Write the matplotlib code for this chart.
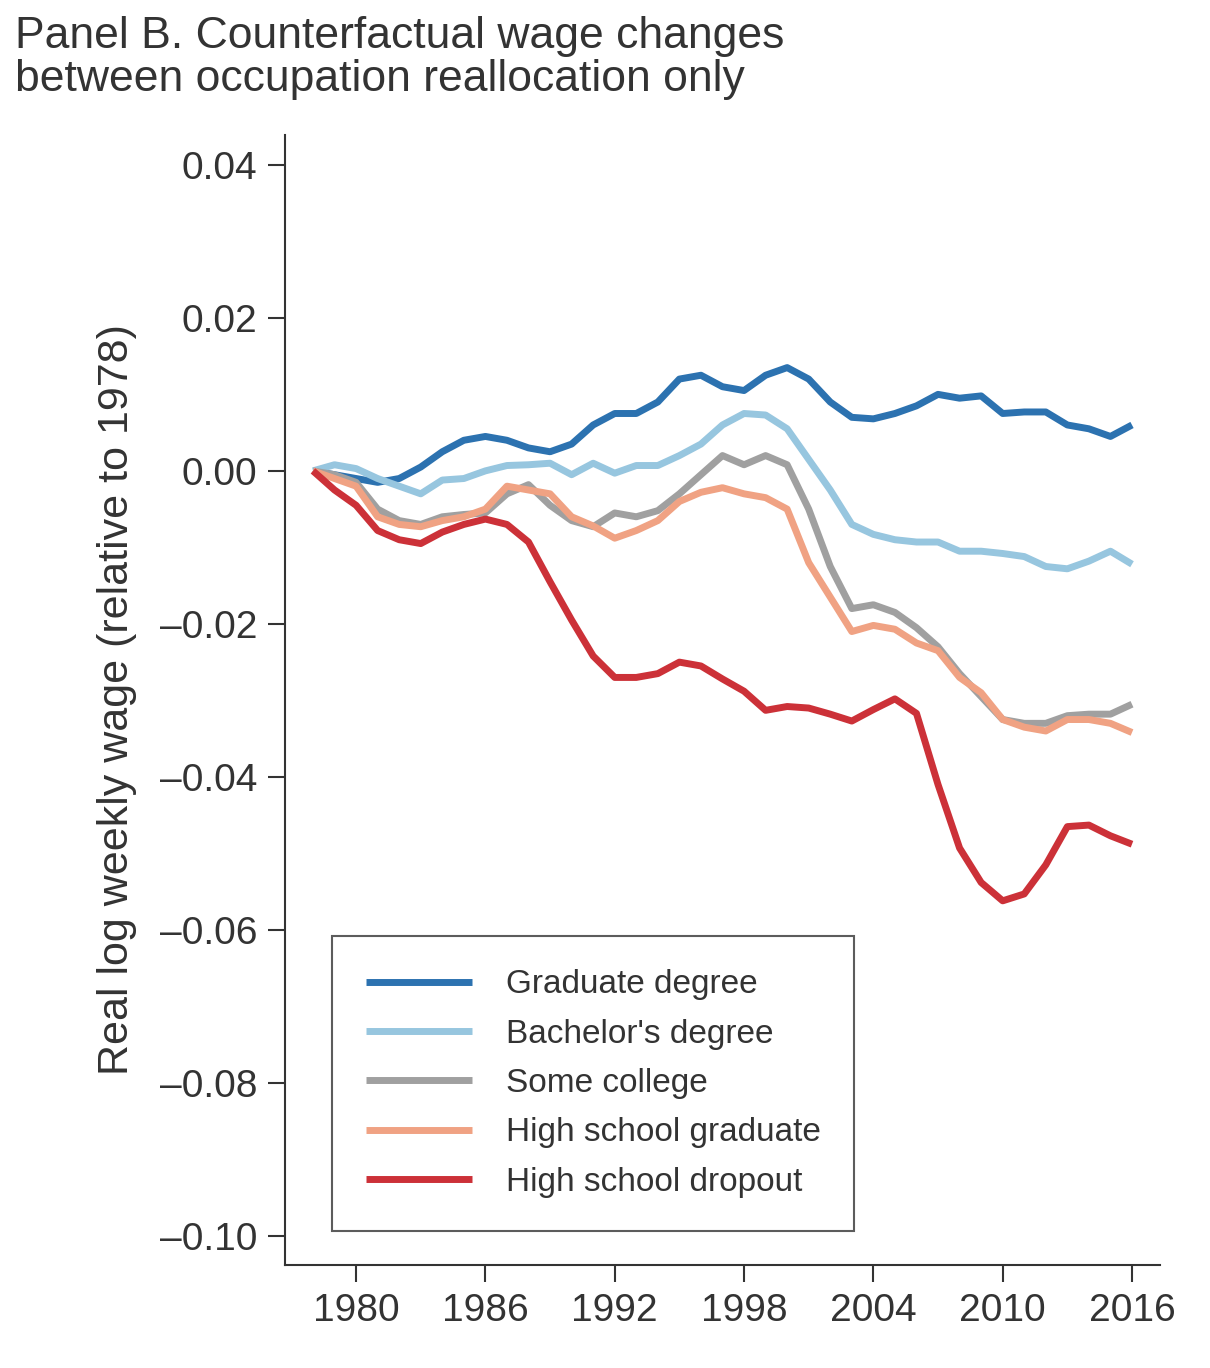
import matplotlib
matplotlib.use("Agg")
import matplotlib.pyplot as plt
import numpy as np

years = np.arange(1978, 2017)

graduate = [0, -0.0005, -0.001, -0.0015, -0.001, 0.0005, 0.0025, 0.004, 0.0045, 0.004, 0.003, 0.0025, 0.0035,
            0.006, 0.0075, 0.0075, 0.009, 0.012, 0.0125, 0.011, 0.0105, 0.0125, 0.0135, 0.012, 0.009, 0.007,
            0.0068, 0.0075, 0.0085, 0.01, 0.0095, 0.0098, 0.0075, 0.0077, 0.0077, 0.006, 0.0055, 0.0045, 0.006]
bachelor = [0, 0.0008, 0.0003, -0.001, -0.002, -0.003, -0.0012, -0.001, 0, 0.0007, 0.0008, 0.001, -0.0005,
            0.001, -0.0003, 0.0007, 0.0007, 0.002, 0.0035, 0.006, 0.0075, 0.0073, 0.0055, 0.0015, -0.0025,
            -0.007, -0.0083, -0.009, -0.0093, -0.0093, -0.0105, -0.0105, -0.0108, -0.0112, -0.0125, -0.0128,
            -0.0118, -0.0105, -0.0122]
some_college = [0, -0.0005, -0.0015, -0.005, -0.0065, -0.007, -0.006, -0.0057, -0.0055, -0.003, -0.0018,
                -0.0045, -0.0065, -0.0073, -0.0055, -0.006, -0.0052, -0.003, -0.0005, 0.002, 0.0008, 0.002,
                0.0008, -0.005, -0.0125, -0.018, -0.0175, -0.0185, -0.0205, -0.023, -0.0265, -0.0295, -0.0325,
                -0.033, -0.033, -0.032, -0.0318, -0.0318, -0.0305]
hs_grad = [0, -0.001, -0.002, -0.006, -0.007, -0.0073, -0.0065, -0.006, -0.005, -0.002, -0.0025, -0.003,
           -0.006, -0.0072, -0.0088, -0.0078, -0.0065, -0.004, -0.0028, -0.0022, -0.003, -0.0035, -0.005,
           -0.012, -0.0165, -0.021, -0.0202, -0.0207, -0.0225, -0.0235, -0.027, -0.029, -0.0325, -0.0335,
           -0.034, -0.0325, -0.0325, -0.033, -0.0342]
dropout = [0, -0.0025, -0.0045, -0.0078, -0.009, -0.0095, -0.008, -0.007, -0.0063, -0.007, -0.0093, -0.0145,
           -0.0195, -0.0242, -0.027, -0.027, -0.0265, -0.025, -0.0255, -0.0272, -0.0288, -0.0313, -0.0308,
           -0.031, -0.0318, -0.0327, -0.0312, -0.0298, -0.0317, -0.041, -0.0493, -0.0538, -0.0562, -0.0553,
           -0.0515, -0.0465, -0.0463, -0.0477, -0.0488]

series = [("Graduate degree", graduate, "#2c72b0"),
          ("Bachelor's degree", bachelor, "#97c6df"),
          ("Some college", some_college, "#a0a0a0"),
          ("High school graduate", hs_grad, "#f0a283"),
          ("High school dropout", dropout, "#cc3138")]

xticks = [1980, 1986, 1992, 1998, 2004, 2010, 2016]
yticks = [0.04, 0.02, 0.0, -0.02, -0.04, -0.06, -0.08, -0.10]

plt.rcParams['font.family'] = ['Liberation Sans', 'DejaVu Sans']
fig = plt.figure(figsize=(12.1, 13.68), dpi=100)
ax = fig.add_axes([0.2355, 0.0753, 0.7232, 0.826])
for name, vals, col in series:
    ax.plot(years, vals, color=col, lw=5, label=name, solid_capstyle='butt')

ax.set_xlim(1976.7, 2017.3)
ax.set_ylim(-0.1038, 0.0439)
ax.set_xticks(xticks)
ax.set_yticks(yticks)
ax.set_yticklabels(["%.2f" % v if v >= 0 else "\u2013%.2f" % -v for v in yticks])
ax.tick_params(labelsize=28, length=12, width=1.5, color='#333333', labelcolor='#333333', pad=8)
for s in ['top', 'right']:
    ax.spines[s].set_visible(False)
for s in ['left', 'bottom']:
    ax.spines[s].set_linewidth(1.5)
    ax.spines[s].set_color('#333333')
ax.set_ylabel("Real log weekly wage (relative to 1978)", fontsize=31, color='#333333', labelpad=16)

leg = ax.legend(loc='lower left', bbox_to_anchor=(0.054, 0.03), fontsize=24, frameon=True,
                fancybox=False, edgecolor='#333333', handlelength=3.2, borderpad=1.0,
                labelspacing=0.55, handletextpad=1.0, borderaxespad=0)
leg.get_frame().set_linewidth(1.5)
for t in leg.get_texts():
    t.set_color('#333333')

fig.text(0.012, 0.988, "Panel B. Counterfactual wage changes\nbetween occupation reallocation only",
         fontsize=32, color='#333333', va='top', ha='left', linespacing=1.05)

fig.savefig("out.png", dpi=100)
